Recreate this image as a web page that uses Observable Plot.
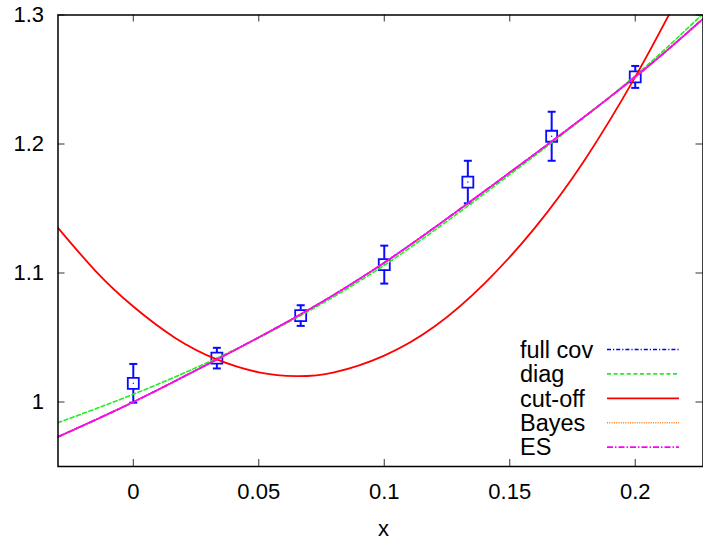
<!DOCTYPE html>
<html><head><meta charset="utf-8">
<script src="https://cdn.jsdelivr.net/npm/d3@7"></script>
<script src="https://cdn.jsdelivr.net/npm/@observablehq/plot@0.6"></script>
<style>body{margin:0;background:#fff;} #chart{width:703px;height:541px;}</style>
</head><body><div id="chart"></div>
<script>
// ---- data ----
const pointX = [0, 0.0333, 0.0667, 0.1, 0.1333, 0.1667, 0.2];
const pointY = [1.0145, 1.034, 1.067, 1.1065, 1.1705, 1.206, 1.252];
const pointErr = [0.015, 0.008, 0.008, 0.0147, 0.0165, 0.019, 0.0085];

const fitX = [-0.03, 0, 0.0333, 0.0667, 0.1, 0.1333, 0.1667, 0.2, 0.227];
const fullCovY = [0.973, 1.000, 1.033, 1.068, 1.108, 1.154, 1.202, 1.252, 1.297];
const diagY    = [0.984, 1.006, 1.034, 1.067, 1.106, 1.152, 1.201, 1.253, 1.301];
const bayesY   = [0.973, 1.000, 1.033, 1.068, 1.108, 1.154, 1.202, 1.252, 1.297];
const esY      = [0.973, 1.000, 1.033, 1.068, 1.108, 1.154, 1.202, 1.252, 1.297];

const cutX = [-0.03, -0.015, 0, 0.0167, 0.0333, 0.05, 0.065, 0.08, 0.1, 0.12, 0.14, 0.16, 0.18, 0.2, 0.215];
const cutY = [1.135, 1.1015, 1.074, 1.0497, 1.033, 1.023, 1.020, 1.023, 1.036, 1.0585, 1.092, 1.135, 1.188, 1.252, 1.306];

const xTicks = [0, 0.05, 0.1, 0.15, 0.2];
const yTicks = [1, 1.1, 1.2, 1.3];
const xLabel = "x";
const seriesNames = ["full cov", "diag", "cut-off", "Bayes", "ES"];

// ---- styles ----
const seriesStyle = {
  "full cov": {stroke: "#0000ff", dash: "4,2,1.2,2", w: 1.6},
  "diag":     {stroke: "#22ee22", dash: "4,2.6", w: 1.6},
  "cut-off":  {stroke: "#ff0000", dash: null, w: 1.8},
  "Bayes":    {stroke: "#ff7f24", dash: "1,1.3", w: 1.6},
  "ES":       {stroke: "#ff00ff", dash: "6,2,1.5,2", w: 1.8}
};
const fnt = "'Liberation Sans', Arial, Helvetica, sans-serif";
const W = 703, H = 541, mL = 57.5, mR = 0.5, mT = 14.5, mB = 75;
const plotW = W - mL - mR, plotH = H - mT - mB;
const blue = "#0a0aff";

const points = pointX.map((x, i) => ({x, y: pointY[i], e: pointErr[i]}));
const mk = (xs, ys) => xs.map((x, i) => ({x, y: ys[i]}));
const curves = {
  "full cov": mk(fitX, fullCovY),
  "diag": mk(fitX, diagY),
  "cut-off": mk(cutX, cutY),
  "Bayes": mk(fitX, bayesY),
  "ES": mk(fitX, esY)
};

const capSymbol = {draw(ctx) { ctx.moveTo(-4, 0); ctx.lineTo(4, 0); }};

const lineMarks = seriesNames.map(n => Plot.line(curves[n], {
  x: "x", y: "y", curve: "natural", clip: true,
  stroke: seriesStyle[n].stroke, strokeWidth: seriesStyle[n].w,
  strokeDasharray: seriesStyle[n].dash
}));

const chart = Plot.plot({
  width: W, height: H,
  marginLeft: mL, marginRight: mR, marginTop: mT, marginBottom: mB,
  style: {fontFamily: fnt, fontSize: "22px", color: "#000", background: "#fff"},
  x: {domain: [-0.03, 0.227]},
  y: {domain: [0.95, 1.3]},
  marks: [
    Plot.axisX({ticks: xTicks, tickSize: 0, tickPadding: 17, tickFormat: d => String(d), label: null, fontSize: 22}),
    Plot.axisY({ticks: yTicks, tickSize: 0, tickPadding: 14, tickFormat: d => String(d), label: null, fontSize: 22}),
    Plot.tickX(xTicks, {x: d => d, insetTop: plotH - 7, stroke: "#333"}),
    Plot.tickX(xTicks, {x: d => d, insetBottom: plotH - 7, stroke: "#333"}),
    Plot.tickY(yTicks, {y: d => d, insetRight: plotW - 7, stroke: "#333"}),
    Plot.tickY(yTicks, {y: d => d, insetLeft: plotW - 7, stroke: "#333"}),
    // error bars (gap inside the square)
    Plot.ruleX(points, {x: "x", y1: d => d.y + d.e, y2: "y", insetBottom: 5.5, stroke: blue, strokeWidth: 2}),
    Plot.ruleX(points, {x: "x", y1: "y", y2: d => d.y - d.e, insetTop: 5.5, stroke: blue, strokeWidth: 2}),
    Plot.dot(points, {x: "x", y: d => d.y + d.e, symbol: capSymbol, stroke: blue, strokeWidth: 2}),
    Plot.dot(points, {x: "x", y: d => d.y - d.e, symbol: capSymbol, stroke: blue, strokeWidth: 2}),
    Plot.dot(points, {x: "x", y: "y", symbol: "square", r: 6.2, fill: "none", stroke: blue, strokeWidth: 1.8}),
    Plot.dot(points, {x: "x", y: "y", r: 0.7, fill: blue, stroke: "none"}),
    ...lineMarks,
    Plot.text([xLabel], {frameAnchor: "bottom", dx: 3, dy: 62, lineAnchor: "middle", fontSize: 22, fill: "#000"}),
    Plot.frame({stroke: "#000", strokeWidth: 1.5})
  ]
});

// legend inside the plot (bottom right)
const svg = d3.select(chart);
const g = svg.append("g").attr("font-family", fnt).attr("font-size", 23.5).attr("text-anchor", "start");
seriesNames.forEach((n, i) => {
  const yy = 349.5 + i * 24.4;
  g.append("text").attr("x", 520).attr("y", yy).attr("dy", "0.35em").attr("fill", "#000").text(n);
  g.append("line").attr("x1", 607).attr("x2", 679).attr("y1", yy).attr("y2", yy)
    .attr("stroke", seriesStyle[n].stroke).attr("stroke-width", seriesStyle[n].w)
    .attr("stroke-dasharray", seriesStyle[n].dash);
});

document.getElementById("chart").appendChild(chart);
</script>
</body></html>
